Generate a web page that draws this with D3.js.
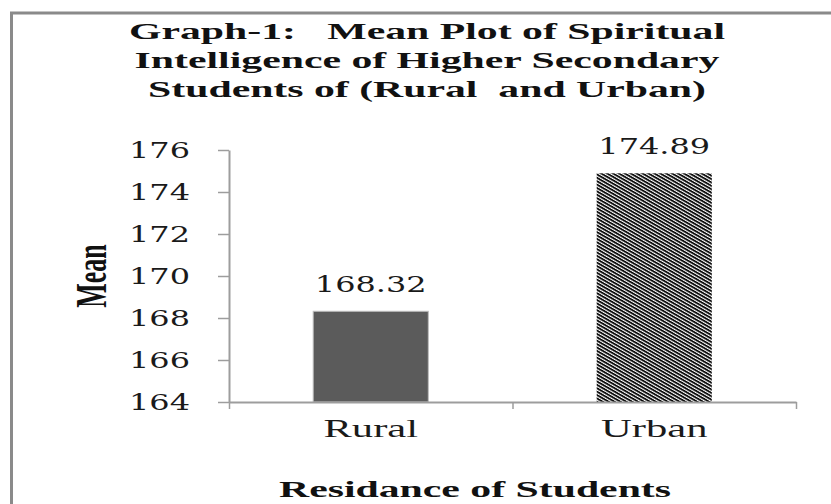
<!DOCTYPE html>
<html>
<head>
<meta charset="utf-8">
<script src="https://cdn.jsdelivr.net/npm/d3@7"></script>
<style>
  html, body { margin: 0; padding: 0; background: #ffffff; }
  svg { display: block; }
</style>
</head>
<body>
<svg id="chart" width="831" height="504"></svg>
<script>
// ---- data ----
const categories = ["Rural", "Urban"];
const meanValues = [168.32, 174.89];
const valueLabels = ["168.32", "174.89"];
const yTickValues = [164, 166, 168, 170, 172, 174, 176];
const titleLines = [
  "Graph-1:   Mean Plot of Spiritual",
  "Intelligence of Higher Secondary",
  "Students of (Rural  and Urban)"
];
const yAxisTitle = "Mean";
const xAxisTitle = "Residance of Students";

// ---- layout ----
const W = 831, H = 504;
const plot = { left: 229, right: 796, top: 150, bottom: 402 };
const SX = 1.74;        // horizontal stretch of the serif text
const SXN = 1.42;       // horizontal stretch of the number text
const serif = "'Liberation Serif', 'Times New Roman', serif";
const numFont = "'DejaVu Serif', serif";
const axisColor = "#9d9d9d";

const svg = d3.select("#chart");

// frame border
svg.append("rect")
  .attr("x", 11.5).attr("y", 13)
  .attr("width", W + 20).attr("height", H + 20)
  .attr("fill", "none")
  .attr("stroke", "#8a8a8a")
  .attr("stroke-width", 3);

// hatch pattern
const defs = svg.append("defs");
const pat = defs.append("pattern")
  .attr("id", "hatch")
  .attr("patternUnits", "userSpaceOnUse")
  .attr("width", 8).attr("height", 2.4)
  .attr("patternTransform", `scale(${SX},1) rotate(45)`);
pat.append("rect").attr("x", 0).attr("y", 0).attr("width", 8).attr("height", 2.4).attr("fill", "#ffffff");
pat.append("rect").attr("x", 0).attr("y", 0).attr("width", 8).attr("height", 1.5).attr("fill", "#0d0d0d");

// scales
const y = d3.scaleLinear().domain([164, 176]).range([plot.bottom, plot.top]);
const x = d3.scaleBand().domain(categories).range([plot.left, plot.right])
  .paddingInner(0.594).paddingOuter(0.297);
const xEdge = d3.scaleLinear().domain([0, categories.length]).range([plot.left, plot.right]);

// title
svg.append("g").selectAll("text")
  .data(titleLines)
  .join("text")
  .attr("transform", (d, i) => `translate(427,${39 + i * 29}) scale(${SX},1)`)
  .attr("text-anchor", "middle")
  .attr("font-family", serif)
  .attr("font-weight", "bold")
  .attr("font-size", 24)
  .attr("fill", "#111")
  .style("white-space", "pre")
  .text(d => d);

// bars
svg.append("g").selectAll("rect")
  .data(meanValues)
  .join("rect")
  .attr("x", (d, i) => x(categories[i]))
  .attr("y", d => y(d))
  .attr("width", x.bandwidth())
  .attr("height", d => y(164) - y(d))
  .attr("fill", (d, i) => i === 0 ? "#5b5b5b" : "url(#hatch)")
  .attr("stroke", (d, i) => i === 0 ? "#bdbdbd" : "none")
  .attr("stroke-width", 1);

// y axis
const yAxis = svg.append("g")
  .attr("transform", `translate(${plot.left},0)`)
  .call(d3.axisLeft(y).tickValues(yTickValues).tickSize(11).tickSizeOuter(0).tickFormat(d3.format("d")));
yAxis.select(".domain").attr("stroke", axisColor).attr("stroke-width", 2);
yAxis.selectAll(".tick line").attr("stroke", axisColor).attr("stroke-width", 1.5);
yAxis.selectAll(".tick text")
  .attr("x", null).attr("dy", null)
  .attr("transform", `translate(-39,0) scale(${SXN},1)`)
  .attr("dominant-baseline", "central")
  .attr("text-anchor", "end")
  .attr("font-family", numFont)
  .attr("font-size", 22.5)
  .attr("fill", "#1a1a1a");

// x axis: boundary ticks
const xAxisG = svg.append("g")
  .attr("transform", `translate(0,${plot.bottom})`)
  .call(d3.axisBottom(xEdge).tickValues(d3.range(categories.length + 1)).tickSize(7).tickSizeOuter(0).tickFormat(""));
xAxisG.select(".domain").attr("stroke", axisColor).attr("stroke-width", 2);
xAxisG.selectAll(".tick line").attr("stroke", axisColor).attr("stroke-width", 1.5);

// x category labels
const xLab = svg.append("g")
  .attr("transform", `translate(0,${plot.bottom})`)
  .call(d3.axisBottom(x).tickSize(0).tickSizeOuter(0));
xLab.select(".domain").remove();
xLab.selectAll(".tick text")
  .attr("y", null).attr("dy", null)
  .attr("transform", `translate(0,35) scale(${SX},1)`)
  .attr("text-anchor", "middle")
  .attr("font-family", serif)
  .attr("font-size", 24.5)
  .attr("fill", "#1a1a1a");

// value labels
svg.append("g").selectAll("text")
  .data(meanValues)
  .join("text")
  .attr("transform", (d, i) => `translate(${x(categories[i]) + x.bandwidth() / 2},${y(d) - 19}) scale(${SXN},1)`)
  .attr("text-anchor", "middle")
  .attr("font-family", numFont)
  .attr("font-size", 22.5)
  .attr("fill", "#1a1a1a")
  .text((d, i) => valueLabels[i]);

// y axis title
svg.append("text")
  .attr("transform", `translate(106,${(plot.top + plot.bottom) / 2}) rotate(-90) scale(1,${SX})`)
  .attr("text-anchor", "middle")
  .attr("font-family", serif)
  .attr("font-weight", "bold")
  .attr("font-size", 26)
  .attr("fill", "#111")
  .text(yAxisTitle);

// x axis title
svg.append("text")
  .attr("transform", `translate(475,497) scale(${SX},1)`)
  .attr("text-anchor", "middle")
  .attr("font-family", serif)
  .attr("font-weight", "bold")
  .attr("font-size", 24)
  .attr("fill", "#111")
  .text(xAxisTitle);
</script>
</body>
</html>
